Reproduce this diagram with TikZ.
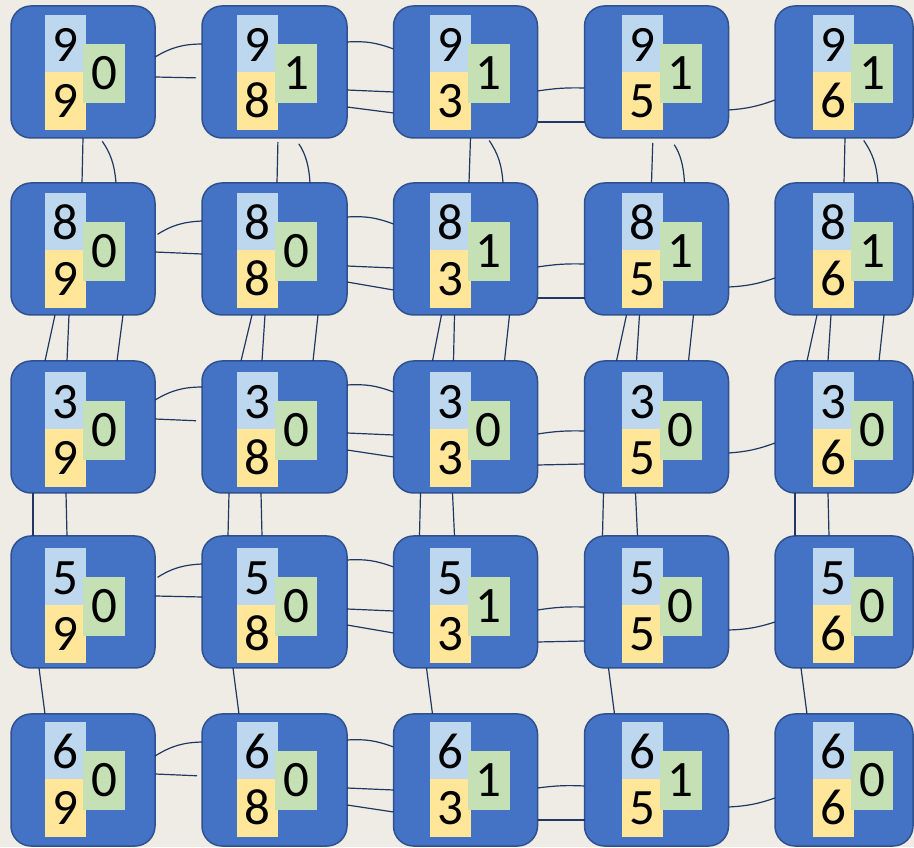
\documentclass[tikz,border=0pt]{standalone}
\usepackage{fontspec}
\setmainfont{Carlito}
\definecolor{bgc}{HTML}{EEECE4}
\definecolor{cellfill}{HTML}{4472C4}
\definecolor{cellline}{HTML}{2F528F}
\definecolor{lblue}{HTML}{BDD7EE}
\definecolor{lyellow}{HTML}{FFE699}
\definecolor{lgreen}{HTML}{C5E0B4}
\definecolor{wire}{HTML}{1F3864}
\newcommand{\digfont}{\fontsize{51pt}{51pt}\selectfont}
\tikzset{
  cell/.style={rectangle, rounded corners=20pt, fill=cellfill, draw=cellline, line width=1.5pt, minimum height=132pt, inner sep=0pt, outer sep=0pt},
  boxbase/.style={rectangle, inner sep=0pt, outer sep=0pt, anchor=north west, font=\digfont, text=black},
  topbox/.style={boxbase, fill=lblue, minimum width=41pt, minimum height=57pt, text height=36pt, text depth=0pt},
  botbox/.style={boxbase, fill=lyellow, minimum width=41pt, minimum height=58pt, text height=34pt, text depth=0pt},
  grnbox/.style={boxbase, fill=lgreen, minimum width=42pt, minimum height=59pt, text height=32.5pt, text depth=0pt},
  conn/.style={draw=wire, line width=1.2pt}
}
% name, x, y, width, box dx, box dy, top value, bottom value, green value
\newcommand{\gridcell}[9]{%
  \node[cell, minimum width=#4pt] (#1) at (#2,#3) {};
  \node[topbox] (#1t) at ([xshift=#5pt, yshift=-#6pt]#1.north west) {#7};
  \node[botbox] (#1b) at (#1t.south west) {#8};
  \node[grnbox] (#1g) at ([xshift=38pt, yshift=-29pt]#1t.north west) {#9};
}
\newcommand{\hcon}[5]{\draw[conn,#5] ([yshift=-#3pt]#1.north east) to ([yshift=-#4pt]#2.north west);}
\newcommand{\vcon}[5]{\draw[conn,#5] ([xshift=#3pt]#1.south west) to ([xshift=#4pt]#2.north west);}
\begin{document}
\begin{tikzpicture}[x=1pt, y=1pt]
\useasboundingbox (0,0) rectangle (914,847);
\fill[bgc] (0,0) rectangle (914,847);
% row 1
\gridcell{n11}{83}{775}{144}{34}{9}{9}{9}{0}
\gridcell{n12}{274.5}{775}{145}{35}{9}{9}{8}{1}
\gridcell{n13}{465.5}{775}{144}{36}{9}{9}{3}{1}
\gridcell{n14}{656.5}{775}{144}{37}{9}{9}{5}{1}
\gridcell{n15}{844}{775}{138}{38}{9}{9}{6}{1}
% row 2
\gridcell{n21}{83}{598}{144}{34}{10}{8}{9}{0}
\gridcell{n22}{274.5}{598}{145}{35}{10}{8}{8}{0}
\gridcell{n23}{465.5}{598}{144}{36}{10}{8}{3}{1}
\gridcell{n24}{656.5}{598}{144}{37}{10}{8}{5}{1}
\gridcell{n25}{844}{598}{138}{38}{10}{8}{6}{1}
% row 3
\gridcell{n31}{83}{420}{144}{34}{11}{3}{9}{0}
\gridcell{n32}{274.5}{420}{145}{35}{11}{3}{8}{0}
\gridcell{n33}{465.5}{420}{144}{36}{11}{3}{3}{0}
\gridcell{n34}{656.5}{420}{144}{37}{11}{3}{5}{0}
\gridcell{n35}{844}{420}{138}{38}{11}{3}{6}{0}
% row 4
\gridcell{n41}{83}{245}{144}{34}{12}{5}{9}{0}
\gridcell{n42}{274.5}{245}{145}{35}{12}{5}{8}{0}
\gridcell{n43}{465.5}{245}{144}{36}{12}{5}{3}{1}
\gridcell{n44}{656.5}{245}{144}{37}{12}{5}{5}{0}
\gridcell{n45}{844}{245}{138}{38}{12}{5}{6}{0}
% row 5
\gridcell{n51}{83}{67}{144}{34}{8}{6}{9}{0}
\gridcell{n52}{274.5}{67}{145}{35}{8}{6}{8}{0}
\gridcell{n53}{465.5}{67}{144}{36}{8}{6}{3}{1}
\gridcell{n54}{656.5}{67}{144}{37}{8}{6}{5}{1}
\gridcell{n55}{844}{67}{138}{38}{8}{6}{6}{0}
% horizontal connectors
\hcon{n11}{n12}{51}{38}{bend left=15}
\hcon{n11}{n12}{71}{72}{shorten >=6pt}
\hcon{n12}{n13}{36}{43}{bend left=12}
\hcon{n12}{n13}{84}{86}{}
\hcon{n12}{n13}{101}{107}{}
\hcon{n13}{n14}{85}{82}{bend left=5}
\hcon{n13}{n14}{116}{116}{}
\hcon{n14}{n15}{104}{94}{bend right=8}
\hcon{n21}{n22}{53}{38}{bend left=15, shorten <=3pt}
\hcon{n21}{n22}{69}{71}{}
\hcon{n22}{n23}{34}{41}{bend left=12}
\hcon{n22}{n23}{83}{85}{}
\hcon{n22}{n23}{99}{107}{}
\hcon{n23}{n24}{84}{81}{bend left=5}
\hcon{n23}{n24}{115}{115}{}
\hcon{n24}{n25}{104}{95}{bend right=8}
\hcon{n31}{n32}{39}{26}{bend left=15}
\hcon{n31}{n32}{58}{60}{shorten >=6pt}
\hcon{n32}{n33}{24}{31}{bend left=12}
\hcon{n32}{n33}{72}{74}{}
\hcon{n32}{n33}{89}{96}{}
\hcon{n33}{n34}{73}{70}{bend left=5}
\hcon{n33}{n34}{104}{103}{}
\hcon{n34}{n35}{92}{82}{bend right=8}
\hcon{n41}{n42}{43}{28}{bend left=15, shorten <=3pt}
\hcon{n41}{n42}{60}{61}{}
\hcon{n42}{n43}{24}{31}{bend left=12}
\hcon{n42}{n43}{73}{75}{}
\hcon{n42}{n43}{89}{97}{}
\hcon{n43}{n44}{74}{71}{bend left=5}
\hcon{n43}{n44}{106}{105}{}
\hcon{n44}{n45}{94}{86}{bend right=8}
\hcon{n51}{n52}{42}{28}{bend left=15}
\hcon{n51}{n52}{60}{62}{shorten >=5pt}
\hcon{n52}{n53}{26}{33}{bend left=12}
\hcon{n52}{n53}{74}{76}{}
\hcon{n52}{n53}{91}{98}{}
\hcon{n53}{n54}{74}{72}{bend left=5}
\hcon{n53}{n54}{106}{106}{}
\hcon{n54}{n55}{93}{84}{bend right=8}
% vertical connectors rows 1-2
\vcon{n11}{n21}{72}{71}{}
\vcon{n11}{n21}{89}{105}{bend left=15, shorten <=4pt}
\vcon{n12}{n22}{76}{75}{shorten <=4pt}
\vcon{n12}{n22}{93}{108}{bend left=15, shorten <=7pt}
\vcon{n13}{n23}{77}{75.5}{}
\vcon{n13}{n23}{94}{109.5}{bend left=15, shorten <=3pt}
\vcon{n14}{n24}{68.4}{67}{shorten <=5pt}
\vcon{n14}{n24}{85.4}{100}{bend left=15, shorten <=8pt}
\vcon{n15}{n25}{70}{69}{}
\vcon{n15}{n25}{87}{103}{bend left=15, shorten <=3pt}
% rows 2-3
\vcon{n21}{n31}{44}{34}{}
\vcon{n21}{n31}{58}{56}{}
\vcon{n21}{n31}{112}{106}{}
\vcon{n22}{n32}{50}{39}{}
\vcon{n22}{n32}{63}{60}{}
\vcon{n22}{n32}{116}{111}{}
\vcon{n23}{n33}{48}{39}{}
\vcon{n23}{n33}{61}{60}{}
\vcon{n23}{n33}{116}{111}{}
\vcon{n24}{n34}{42}{32}{}
\vcon{n24}{n34}{55}{52}{}
\vcon{n24}{n34}{109}{104}{}
\vcon{n25}{n35}{42}{32}{}
\vcon{n25}{n35}{56}{53}{}
\vcon{n25}{n35}{109}{104}{}
% rows 3-4
\vcon{n31}{n41}{22}{22}{}
\vcon{n31}{n41}{55}{56}{}
\vcon{n32}{n42}{27}{26}{}
\vcon{n32}{n42}{59}{60}{}
\vcon{n33}{n43}{27}{26}{}
\vcon{n33}{n43}{59}{61}{}
\vcon{n34}{n44}{19}{18}{}
\vcon{n34}{n44}{51}{53}{}
\vcon{n35}{n45}{20}{20}{}
\vcon{n35}{n45}{53}{54}{}
% rows 4-5
\vcon{n41}{n51}{28}{34}{}
\vcon{n42}{n52}{31}{37}{}
\vcon{n43}{n53}{33}{39}{}
\vcon{n44}{n54}{24}{30}{}
\vcon{n45}{n55}{26}{32}{}
\end{tikzpicture}
\end{document}
